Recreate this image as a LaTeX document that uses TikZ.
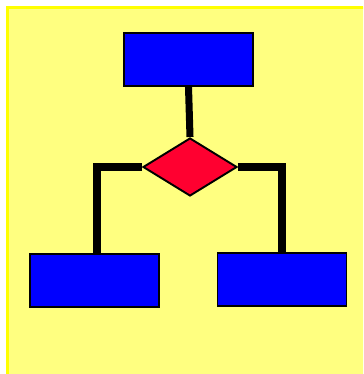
\documentclass[tikz,border=0pt]{standalone}
\usepackage{tikz}
\usetikzlibrary{shapes.geometric,positioning,calc}
\usepackage{xcolor}
\definecolor{Pad}{HTML}{FFFF80}
\definecolor{PadEdge}{HTML}{FFFF00}
\definecolor{BoxBlue}{HTML}{0000FF}
\definecolor{TestRed}{HTML}{FF0030}

\begin{document}
\begin{tikzpicture}[x=0.02cm,y=-0.02cm,
  blockbox/.style={rectangle,fill=BoxBlue,draw=black,line width=1.1pt,inner sep=0pt,minimum width=2.58cm,minimum height=1.06cm},
  testbox/.style={diamond,fill=TestRed,draw=black,line width=1.1pt,inner sep=0pt,minimum width=1.88cm,minimum height=1.16cm},
  wire/.style={black,line width=4pt}]
\clip (0,0) rectangle (363,374);
\fill[white] (0,0) rectangle (363,374);
\filldraw[fill=Pad,draw=PadEdge,line width=1.7pt] (7.5,7.5) rectangle (370,380);
\node[blockbox] (top) at (188.5,59.5) {};
\node[testbox] (test) at (190,167) {};
\node[blockbox] (left) at (94.5,280.5) {};
\node[blockbox] (right) at (282,279.5) {};
\draw[wire] (top.south) -- (test.north);
\draw[wire] (test.west) -| ($(left.north)+(2.5,0)$);
\draw[wire] (test.east) -| (right.north);
\end{tikzpicture}
\end{document}
